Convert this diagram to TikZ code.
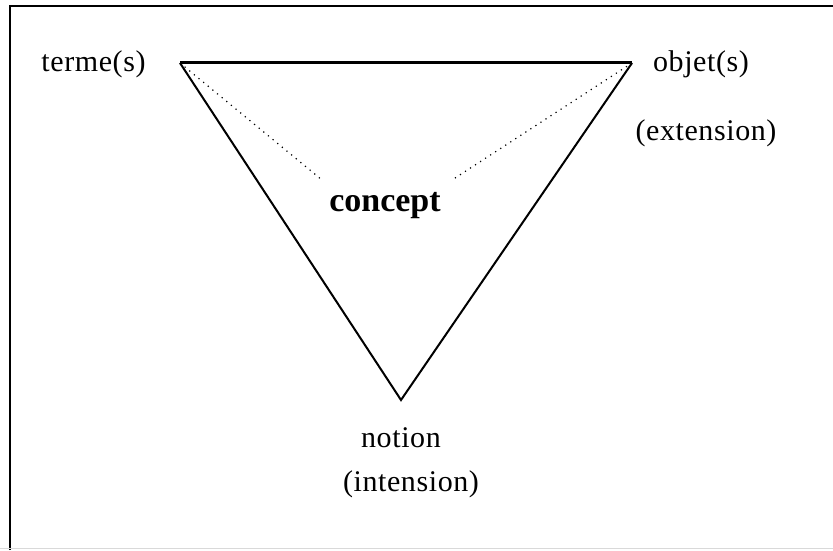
\documentclass[tikz,border=0pt]{standalone}
\usepackage{fontspec}
\setmainfont{Liberation Serif}
\tikzset{
  lbl/.style={inner sep=0pt, anchor=base, font=\fontsize{15}{17}\selectfont\addfontfeatures{LetterSpace=2}},
  edge/.style={line width=1pt},
  guide/.style={line width=0.6pt, dash pattern=on 0.6pt off 2.4pt}
}
\begin{document}
\begin{tikzpicture}[x=0.5pt,y=-0.5pt]
\useasboundingbox (0,0) rectangle (833,550);
% frame
\draw[line width=1pt] (9.5,550) -- (9.5,6) -- (833,6);
\draw[black!15] (0,548.5) -- (833,548.5);
% triangle
\coordinate (terme) at (180,63);
\coordinate (objet) at (632,63);
\coordinate (notion) at (401,400);
\draw[line width=1.5pt] (terme) -- (objet);
\draw[edge] (objet) -- (notion) -- (terme);
% labels
\node[lbl] (termelbl) at (93.5,72) {terme(s)};
\node[lbl] (objetlbl) at (701,72) {objet(s)};
\node[lbl] (extlbl) at (706,141) {(extension)};
\node[lbl] (notionlbl) at (401,447) {notion};
\node[lbl] (intlbl) at (411,491) {(intension)};
\node[inner sep=0pt, anchor=base, font=\fontsize{17}{19}\selectfont\bfseries] (concept) at (385,212) {concept};
% dotted links to the concept
\coordinate (cl) at (322,180);
\coordinate (cr) at (452,180);
\draw[guide] (terme) -- (cl);
\draw[guide] (objet) -- (cr);
\end{tikzpicture}
\end{document}
